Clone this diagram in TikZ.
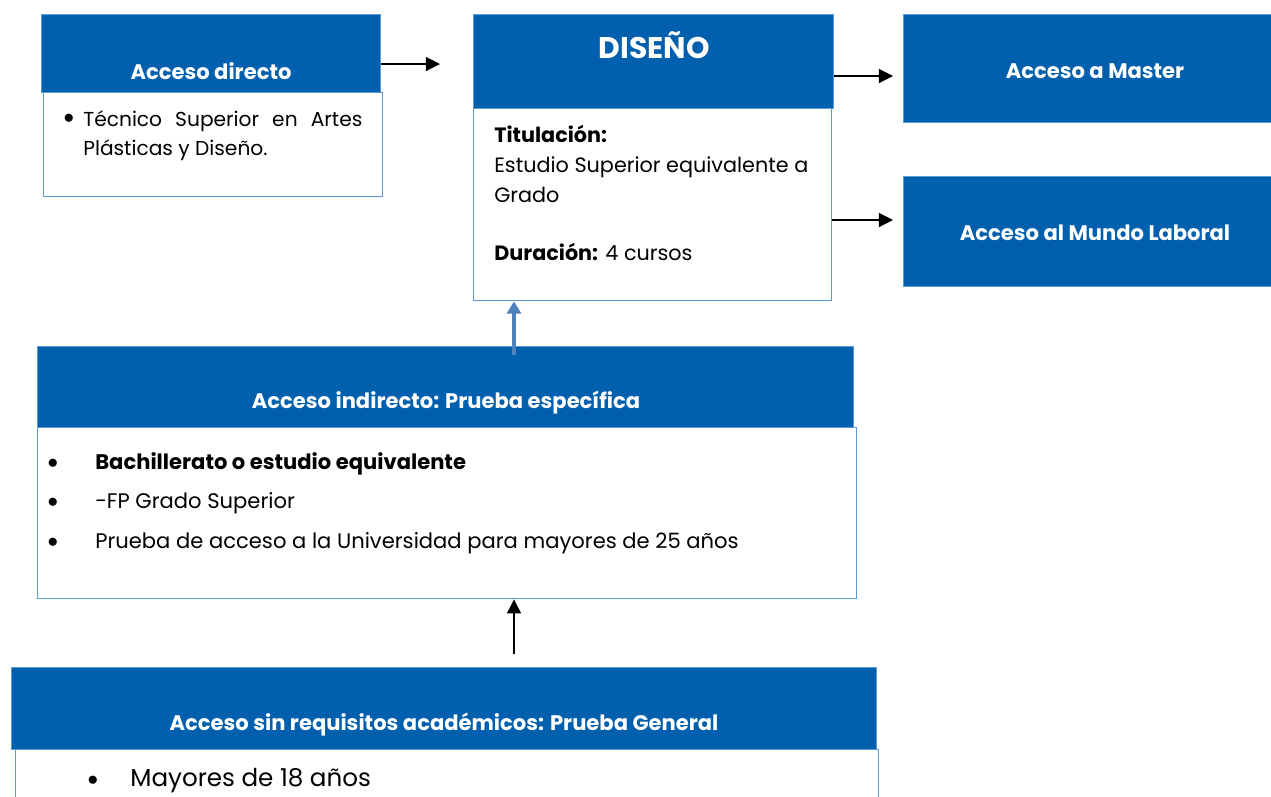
\documentclass[tikz,border=0pt]{standalone}
\usepackage{fontspec}
\setmainfont{Poppins}
\usetikzlibrary{positioning,arrows.meta}
\tikzset{>=Triangle}
\definecolor{headBlue}{RGB}{0,96,174}
\definecolor{lineBlue}{RGB}{91,155,213}
\definecolor{arrowBlue}{RGB}{79,129,189}
\tikzset{
  wh/.style 2 args={minimum width=#1*0.02cm,minimum height=#2*0.02cm},
  head/.style={fill=headBlue,draw=lineBlue,line width=0.8pt,anchor=north west,inner sep=0pt},
  body/.style={fill=white,draw=lineBlue,line width=0.8pt,anchor=north west,inner sep=0pt},
  headtxt/.style={text=white,inner sep=0pt,font=\bfseries\fontsize{12}{14}\selectfont},
  bodytxt/.style={inner sep=0pt,anchor=west,font=\fontsize{12}{14}\selectfont},
  dot/.style={inner sep=0pt,font=\fontsize{13}{14}\selectfont},
  link/.style={->,>={Triangle[length=8pt,width=8pt]},line width=0.6pt},
}

\begin{document}
\begin{tikzpicture}[x=0.02cm,y=-0.02cm]
\useasboundingbox (0,0) rectangle (1271,796);

% acceso directo
\node[head,wh={339}{78}] (dirHead) at (41,14) {};
\node[body,wh={339}{104}] (dirBody) at (43,92) {};
\node[headtxt] (dirTitle) at (211,71) {Acceso directo};
\node[dot] (dirDot) at (69,119) {$\bullet$};
\node[inner sep=0pt,anchor=north west,text width=279*0.02cm,align=justify,
      font=\fontsize{11.5}{16.5}\selectfont] (dirText) at (83,110)
      {Técnico Superior en Artes\linebreak Plásticas y Diseño.};

% diseño
\node[head,wh={360}{94}] (disHead) at (473,14) {};
\node[body,wh={358}{192}] (disBody) at (473,108) {};
\node[text=white,inner sep=0pt,font=\bfseries\fontsize{17}{20}\selectfont] (disTitle) at (654,45) {DISEÑO};
\node[inner sep=0pt,anchor=north west,align=left,font=\fontsize{11.8}{17}\selectfont] (disText) at (494,125)
      {\textbf{Titulación:}\\Estudio Superior equivalente a\\Grado\\[16pt]\textbf{Duración:} 4 cursos};

% salidas
\node[head,wh={380}{108}] (master) at (903,14) {};
\node[headtxt] (masterTxt) at (1095,71) {Acceso a Master};
\node[head,wh={380}{110}] (laboral) at (903,176) {};
\node[headtxt] (laboralTxt) at (1095,233) {Acceso al Mundo Laboral};

% acceso indirecto
\node[head,wh={816}{81}] (indHead) at (37,346) {};
\node[body,wh={819}{171}] (indBody) at (37,427) {};
\node[headtxt] (indTitle) at (446,403) {Acceso indirecto: Prueba específica};
\node[dot] (indDotA) at (53,464) {$\bullet$};
\node[dot] (indDotB) at (53,503) {$\bullet$};
\node[dot] (indDotC) at (53,543) {$\bullet$};
\node[bodytxt] (indA) at (95,464) {\textbf{Bachillerato o estudio equivalente}};
\node[bodytxt] (indB) at (95,503) {-FP Grado Superior};
\node[bodytxt] (indC) at (95,543) {Prueba de acceso a la Universidad para mayores de 25 años};

% acceso sin requisitos
\node[head,wh={865}{82}] (libHead) at (11,667) {};
\node[body,wh={863}{80}] (libBody) at (15,749) {};
\node[headtxt] (libTitle) at (444,724) {Acceso sin requisitos académicos: Prueba General};
\node[dot] (libDot) at (93,781) {$\bullet$};
\node[bodytxt,font=\fontsize{14}{16}\selectfont] (libA) at (130,781) {Mayores de 18 años};

% flechas
\coordinate (dirEnd) at (440,64);
\coordinate (masterEnd) at (893,76);
\coordinate (laboralEnd) at (893,220);
\coordinate (indStart) at (514,355);
\coordinate (libStart) at (514,654);
\draw[link] (dirHead.east |- dirEnd) -- (dirEnd);
\draw[link] (disHead.east |- masterEnd) -- (masterEnd);
\draw[link] (disBody.east |- laboralEnd) -- (laboralEnd);
\draw[->,>={Triangle[length=7pt,width=8pt]},line width=2.6pt,draw=arrowBlue] (indStart) -- (disBody.south -| indStart);
\draw[link] (libStart) -- (indBody.south -| libStart);
\end{tikzpicture}
\end{document}
